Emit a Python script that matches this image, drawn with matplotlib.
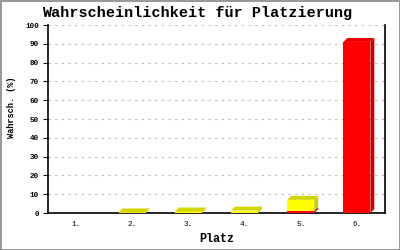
import matplotlib
matplotlib.use("Agg")
import matplotlib.pyplot as plt
from matplotlib.patches import Polygon, Rectangle

categories = ["1.", "2.", "3.", "4.", "5.", "6."]
red_vals = [0.0, 0.0, 0.0, 0.0, 1.2, 91.0]
yellow_vals = [0.0, 0.3, 0.8, 1.3, 5.8, 0.0]
yticks = list(range(0, 101, 10))

title = "Wahrscheinlichkeit für Platzierung"
xlabel = "Platz"
ylabel = "Wahrsch. (%)"

fig = plt.figure(figsize=(4, 2.5), dpi=100)
fig.patch.set_facecolor("white")
fig.patch.set_edgecolor("#999999")
fig.patch.set_linewidth(2)
ax = fig.add_axes([0.12, 0.148, 0.8425, 0.752])

width = 0.48
dx, dy = 0.07, 2.1
mono = "Liberation Mono"

def bar3d(x, bottom, h, front, dark, topc, top_face):
    x0, x1 = x - width / 2, x + width / 2
    t = bottom + h
    ax.add_patch(Rectangle((x0, bottom), width, h, facecolor=front, edgecolor="none", zorder=3))
    ax.add_patch(Polygon([(x1, bottom), (x1 + dx, bottom + dy), (x1 + dx, t + dy), (x1, t)],
                         closed=True, facecolor=dark, edgecolor="none", zorder=3))
    if top_face:
        ax.add_patch(Polygon([(x0, t), (x1, t), (x1 + dx, t + dy), (x0 + dx, t + dy)],
                             closed=True, facecolor=topc, edgecolor="none", zorder=3))

for i, (r, y) in enumerate(zip(red_vals, yellow_vals)):
    if r > 0:
        bar3d(i, 0, r, "#ff0000", "#cc0000", "#f00000", y == 0)
    if y > 0:
        bar3d(i, r, y, "#ffff00", "#cccc00", "#d4d400", True)

ax.set_xlim(-0.5, 5.5)
ax.set_ylim(0, 100)
ax.set_xticks(range(len(categories)))
ax.set_xticklabels(categories, fontfamily=mono, fontsize=5.5)
ax.set_yticks(yticks)
ax.set_yticklabels([str(v) for v in yticks], fontfamily=mono, fontsize=5.5, fontweight="bold")
ax.tick_params(axis="x", length=0, pad=6)
ax.tick_params(axis="y", length=3.5, width=0.8, pad=3, direction="out")
for v in yticks[1:]:
    ax.axhline(v, color="#bbbbbb", linewidth=0.8, linestyle=(0, (2, 4)), zorder=1)
ax.spines["top"].set_visible(False)
for s in ["left", "right", "bottom"]:
    ax.spines[s].set_linewidth(1.2)
    ax.spines[s].set_color("black")

fig.text(0.4925, 0.95, title, ha="center", va="center", fontfamily=mono, fontweight="bold", fontsize=10.9)
ax.set_xlabel(xlabel, fontfamily=mono, fontweight="bold", fontsize=8.5, labelpad=3)
fig.text(0.03, 0.57, ylabel, rotation=90, ha="center", va="center", fontfamily=mono, fontweight="bold", fontsize=6.2)

fig.savefig("out.png", dpi=100)
